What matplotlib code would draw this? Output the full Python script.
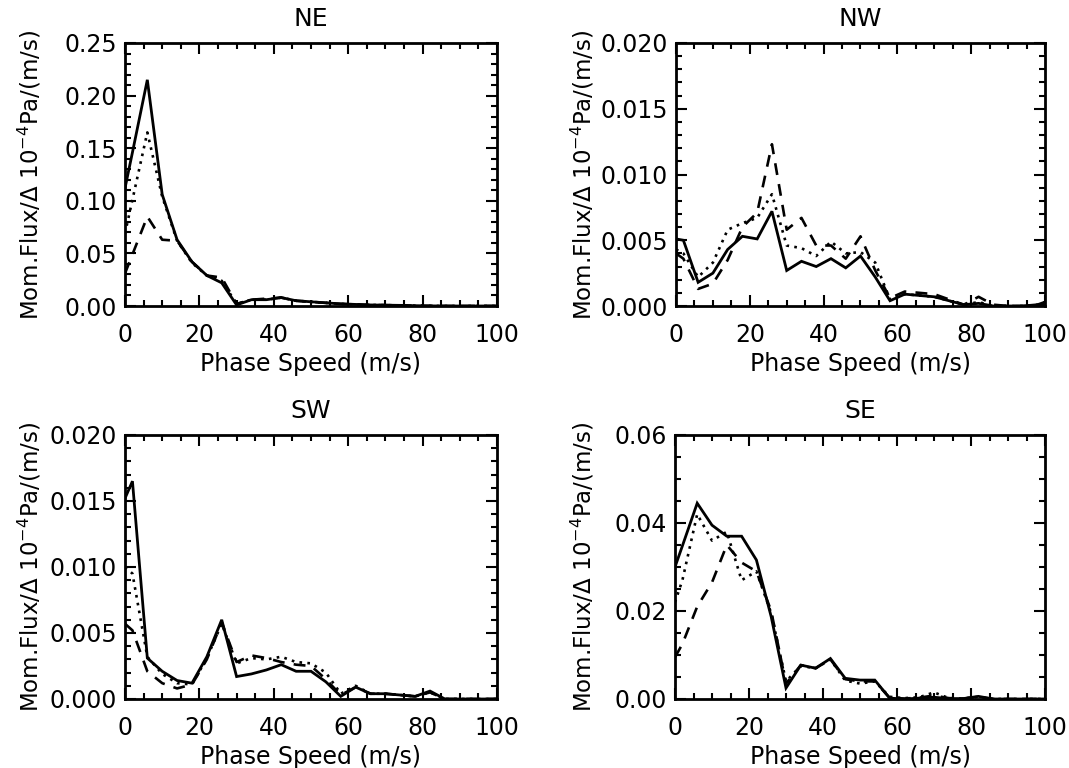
import matplotlib
matplotlib.use("Agg")
import matplotlib.pyplot as plt
from matplotlib.ticker import MultipleLocator, FormatStrFormatter

plt.rcParams['font.family'] = ['DejaVu Sans']

phase_speed = [0, 2, 6, 10, 14, 18, 22, 26, 30, 34, 38, 42, 46, 50, 54, 58,
               62, 66, 70, 74, 78, 82, 86, 90, 94, 98, 100]

ne_solid = [0.112, 0.146, 0.215, 0.106, 0.063, 0.042, 0.029, 0.022, 0.001, 0.006, 0.006,
            0.008, 0.005, 0.004, 0.003, 0.002, 0.0015, 0.001, 0.0008, 0.0006, 0.0003,
            0.0001, 0.0, 0.0, 0.0, 0.0, 0.0]
ne_dotted = [0.069, 0.101, 0.165, 0.104, 0.062, 0.041, 0.029, 0.024, 0.002, 0.006, 0.006,
             0.008, 0.005, 0.004, 0.003, 0.002, 0.0015, 0.001, 0.0008, 0.0006, 0.0003,
             0.0001, 0.0, 0.0, 0.0, 0.0, 0.0]
ne_dashed = [0.031, 0.049, 0.085, 0.063, 0.062, 0.042, 0.029, 0.027, 0.002, 0.006, 0.007,
             0.008, 0.005, 0.004, 0.003, 0.002, 0.0015, 0.001, 0.0008, 0.0006, 0.0003,
             0.0001, 0.0, 0.0, 0.0, 0.0, 0.0]

nw_solid = [0.0051, 0.0050, 0.0018, 0.0025, 0.0043, 0.0053, 0.0051, 0.0072, 0.0027, 0.0034,
            0.0030, 0.0036, 0.0029, 0.0038, 0.0022, 0.0004, 0.0009, 0.0008, 0.0007, 0.0004,
            0.0001, 0.0002, 0.0, 0.0, 0.0, 0.0001, 0.0003]
nw_dotted = [0.0043, 0.0040, 0.0022, 0.0033, 0.0058, 0.0063, 0.0067, 0.0085, 0.0046, 0.0044,
             0.0038, 0.0049, 0.0040, 0.0041, 0.0033, 0.0005, 0.0009, 0.0008, 0.0007, 0.0004,
             0.0001, 0.0003, 0.0, 0.0, 0.0, 0.0001, 0.0003]
nw_dashed = [0.0040, 0.0036, 0.0013, 0.0017, 0.0035, 0.0060, 0.0071, 0.0123, 0.0058, 0.0067,
             0.0046, 0.0046, 0.0036, 0.0053, 0.0027, 0.0006, 0.0011, 0.0010, 0.0009, 0.0005,
             0.0001, 0.0007, 0.0001, 0.0, 0.0, 0.0, 0.0002]

sw_solid = [0.0152, 0.0165, 0.0031, 0.0021, 0.0014, 0.0012, 0.0032, 0.0060, 0.0017, 0.0019,
            0.0022, 0.0026, 0.0021, 0.0021, 0.0013, 0.0002, 0.0009, 0.0004, 0.0004, 0.0003,
            0.0002, 0.0006, 0.0, 0.0, 0.0, 0.0, 0.0]
sw_dotted = [0.0100, 0.0095, 0.0032, 0.0019, 0.0012, 0.0011, 0.0031, 0.0057, 0.0027, 0.0031,
             0.0030, 0.0032, 0.0028, 0.0027, 0.0020, 0.0004, 0.0010, 0.0004, 0.0004, 0.0003,
             0.0002, 0.0005, 0.0, 0.0, 0.0, 0.0, 0.0]
sw_dashed = [0.0057, 0.0052, 0.0021, 0.0012, 0.0008, 0.0011, 0.0030, 0.0058, 0.0028, 0.0033,
             0.0031, 0.0028, 0.0026, 0.0025, 0.0015, 0.0003, 0.0009, 0.0004, 0.0004, 0.0003,
             0.0002, 0.0005, 0.0, 0.0, 0.0, 0.0, 0.0]

se_solid = [0.030, 0.0348, 0.0445, 0.0395, 0.037, 0.037, 0.0316, 0.0187, 0.0025, 0.0077,
            0.0070, 0.0092, 0.0047, 0.0043, 0.0043, 0.0002, 0.0, 0.0002, 0.0004, 0.0001,
            0.0001, 0.0006, 0.0, 0.0, 0.0, 0.0, 0.0]
se_dotted = [0.022, 0.027, 0.042, 0.036, 0.038, 0.027, 0.029, 0.0195, 0.004, 0.0075,
             0.007, 0.009, 0.0042, 0.0035, 0.004, 0.0005, 0.0002, 0.0004, 0.0015, 0.0002,
             0.0001, 0.0005, 0.0, 0.0, 0.0, 0.0, 0.0]
se_dashed = [0.0095, 0.0125, 0.021, 0.0265, 0.035, 0.031, 0.029, 0.020, 0.0035, 0.0077,
             0.007, 0.009, 0.0045, 0.004, 0.004, 0.0003, 0.0001, 0.0003, 0.0008, 0.0002,
             0.0001, 0.0005, 0.0, 0.0, 0.0, 0.0, 0.0]

titles = ["NE", "NW", "SW", "SE"]
y_max = [0.25, 0.020, 0.020, 0.06]
y_major = [0.05, 0.005, 0.005, 0.02]
y_minor = [0.01, 0.001, 0.001, 0.005]
y_fmt = ["%.2f", "%.3f", "%.3f", "%.2f"]
series = [(ne_solid, ne_dotted, ne_dashed), (nw_solid, nw_dotted, nw_dashed),
          (sw_solid, sw_dotted, sw_dashed), (se_solid, se_dotted, se_dashed)]

W, H = 1069, 768
fig = plt.figure(figsize=(W / 100, H / 100), dpi=100)
boxes = [(125, 43, 497, 306), (676, 43, 1045, 306), (125, 435, 497, 699), (675, 435, 1045, 699)]
ylabel_x = [30, 583, 30, 583]

for i in range(4):
    l, t, r, b = boxes[i]
    ax = fig.add_axes([l / W, 1 - b / H, (r - l) / W, (b - t) / H])
    s, d, da = series[i]
    ax.plot(phase_speed, s, color='black', lw=2.0, solid_joinstyle='miter')
    ax.plot(phase_speed, d, color='black', lw=1.9, linestyle=(0, (1, 2.0)))
    ax.plot(phase_speed, da, color='black', lw=1.9, linestyle=(0, (4.5, 3.5)))
    ax.set_xlim(0, 100)
    ax.set_ylim(0, y_max[i])
    ax.xaxis.set_major_locator(MultipleLocator(20))
    ax.xaxis.set_minor_locator(MultipleLocator(5))
    ax.yaxis.set_major_locator(MultipleLocator(y_major[i]))
    ax.yaxis.set_minor_locator(MultipleLocator(y_minor[i]))
    ax.yaxis.set_major_formatter(FormatStrFormatter(y_fmt[i]))
    ax.tick_params(which='both', direction='in', top=True, right=True, width=1.5)
    ax.tick_params(which='major', length=8, labelsize=17)
    ax.tick_params(axis='x', which='major', pad=12)
    ax.tick_params(axis='y', which='major', pad=6)
    ax.tick_params(which='minor', length=4)
    for sp in ax.spines.values():
        sp.set_linewidth(2.0)
    ax.set_title(titles[i], fontsize=18, pad=12)
    ax.set_xlabel("Phase Speed (m/s)", fontsize=17, labelpad=4)
    ax.set_ylabel(r"Mom.Flux/$\Delta$ 10$^{-4}$Pa/(m/s)", fontsize=16.5, va='center')
    ax.yaxis.set_label_coords((ylabel_x[i] - l) / (r - l), 0.5)

fig.savefig("out.png", dpi=100)
